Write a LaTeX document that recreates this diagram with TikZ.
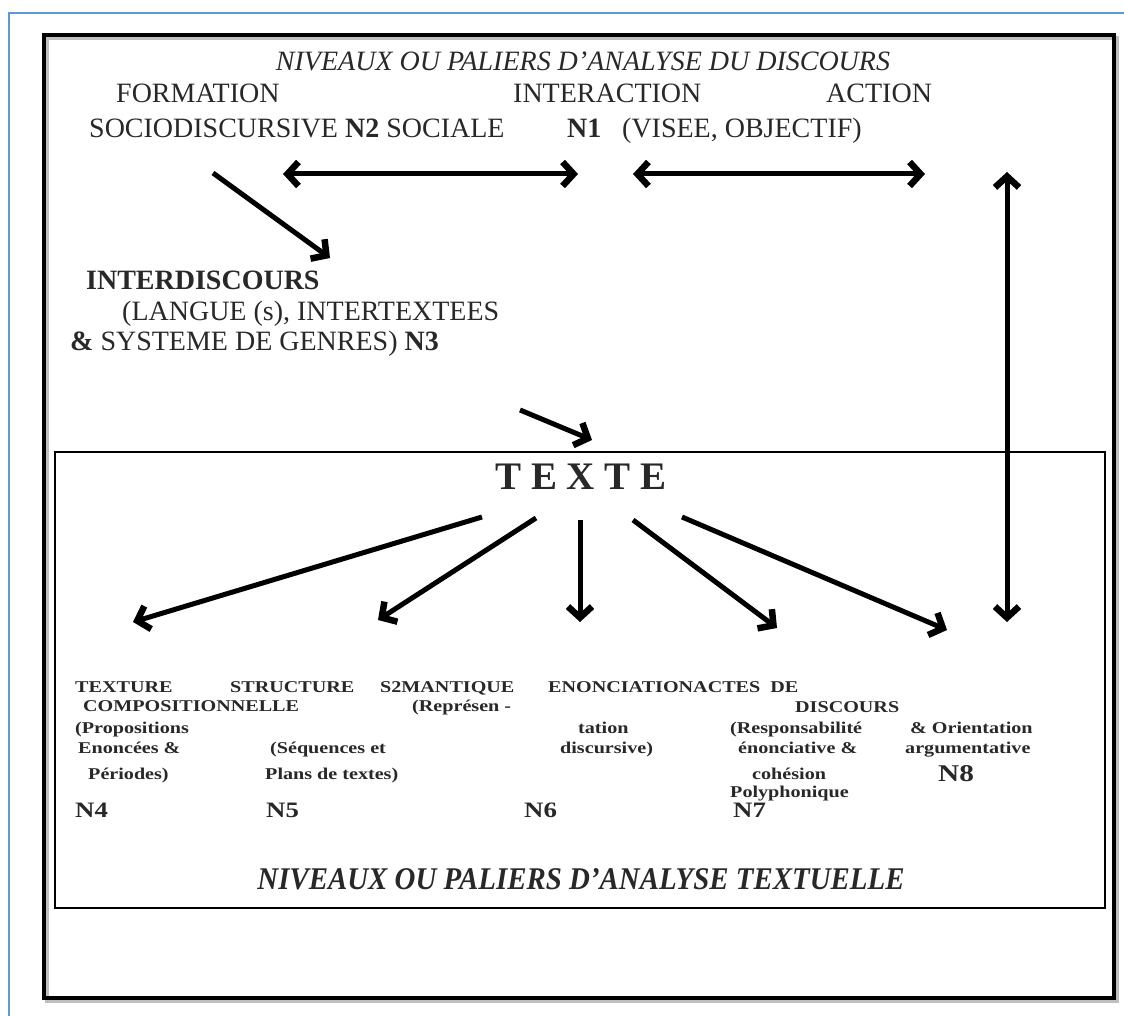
\documentclass[tikz,border=0pt]{standalone}
\usepackage{fontspec}
\setmainfont{Liberation Serif}
\newfontfamily\lblfont[FakeStretch=1.22]{Liberation Serif}
\usetikzlibrary{arrows.meta}
\definecolor{frameblue}{RGB}{91,155,213}
\definecolor{txtgray}{RGB}{40,40,40}
\begin{document}
\begin{tikzpicture}[x=1pt,y=-1pt,
  barb/.tip={Straight Barb[length=11pt,width=24pt,line width=0pt 1.3]},
  arr/.style={line width=5pt,-barb},
  darr/.style={line width=5pt,barb-barb},
  txt/.style={anchor=base west,inner sep=0pt,text=txtgray,font=\fontsize{28}{30}\selectfont},
  lbl/.style={anchor=base west,inner sep=0pt,text=txtgray,font=\lblfont\bfseries\fontsize{16.5}{18}\selectfont},
  num/.style={anchor=base west,inner sep=0pt,text=txtgray,font=\lblfont\bfseries\fontsize{22}{24}\selectfont}]
\useasboundingbox (0,0) rectangle (1124,1016);
% outer blue border
\draw[frameblue,line width=1.3pt] (9,1016) -- (9,13) -- (1124,13);
% thick frame with shadow
\draw[gray!50,line width=4pt] (47,38) rectangle (1117,1001);
\draw[black,line width=4pt] (44,35) rectangle (1114,998);
% inner box
\draw[black,line width=1.4pt] (55,452) rectangle (1105,908);

% header texts
\node[anchor=base,inner sep=0pt,text=txtgray,font=\itshape\fontsize{28}{30}\selectfont] (title) at (583,71) {NIVEAUX OU PALIERS D'ANALYSE DU DISCOURS};
\node[txt] (formation) at (116,103) {FORMATION};
\node[txt] (interaction) at (513,103) {INTERACTION};
\node[txt] (action) at (826,103) {ACTION};
\node[txt] (socio) at (89,138) {SOCIODISCURSIVE \textbf{N2} SOCIALE};
\node[txt] (n1) at (567,138) {\textbf{N1}};
\node[txt] (visee) at (622,138) {(VISEE, OBJECTIF)};

\node[txt] (interd) at (86,290) {\textbf{INTERDISCOURS}};
\node[txt] (langue) at (122,320) {(LANGUE (s), INTERTEXTEES};
\node[txt] (systeme) at (70,350) {\textbf{\&} SYSTEME DE GENRES) \textbf{N3}};

\node[anchor=base,inner sep=0pt,text=txtgray,font=\bfseries\fontsize{39}{40}\selectfont] (texte) at (581,489) {T E X T E};

% bottom labels
\node[lbl] (l1a) at (75,692) {TEXTURE};
\node[lbl] (l1b) at (230,692) {STRUCTURE};
\node[lbl] (l1c) at (380,692) {S2MANTIQUE};
\node[lbl] (l1d) at (548,692) {ENONCIATIONACTES\ \ DE};
\node[lbl] (l2a) at (83,711) {COMPOSITIONNELLE};
\node[lbl] (l2c) at (412,711) {(Représen -};
\node[lbl] (l2d) at (795,712) {DISCOURS};
\node[lbl] (l3a) at (75,733) {(Propositions};
\node[lbl] (l3c) at (578,733) {tation};
\node[lbl] (l3d) at (730,733) {(Responsabilité};
\node[lbl] (l3e) at (910,733) {\& Orientation};
\node[lbl] (l4a) at (78,753) {Enoncées \&};
\node[lbl] (l4b) at (270,753) {(Séquences et};
\node[lbl] (l4c) at (560,753) {discursive)};
\node[lbl] (l4d) at (738,753) {énonciative \&};
\node[lbl] (l4e) at (905,753) {argumentative};
\node[lbl] (l5a) at (88,779) {Périodes)};
\node[lbl] (l5b) at (265,779) {Plans de textes)};
\node[lbl] (l5d) at (752,779) {cohésion};
\node[num,font=\lblfont\bfseries\fontsize{24}{26}\selectfont] (n8) at (938,781) {N8};
\node[lbl] (l6d) at (730,797) {Polyphonique};
\node[num] (n4) at (75,817) {N4};
\node[num] (n5) at (266,817) {N5};
\node[num] (n6) at (524,817) {N6};
\node[num] (n7) at (733,817) {N7};

\node[anchor=base,inner sep=0pt,text=txtgray] (bottom) at (581,889) {\resizebox{647pt}{21pt}{\bfseries\itshape NIVEAUX OU PALIERS D'ANALYSE TEXTUELLE}};

% arrow end points
\coordinate (a1l) at (283,174); \coordinate (a1r) at (578,174);
\coordinate (a2l) at (633,174); \coordinate (a2r) at (925,174);
\coordinate (d1s) at (213,173); \coordinate (d1e) at (330,258);
\coordinate (vt) at (1007,172); \coordinate (vb) at (1007,622);
\coordinate (d2s) at (520,410); \coordinate (d2e) at (592,440);
\coordinate (t1s) at (482,517); \coordinate (t1e) at (133,622);
\coordinate (t2s) at (536,518); \coordinate (t2e) at (378,620);
\coordinate (t3s) at (580,520); \coordinate (t3e) at (580,622);
\coordinate (t4s) at (633,520); \coordinate (t4e) at (777,628);
\coordinate (t5s) at (682,517); \coordinate (t5e) at (947,630);

\draw[darr] (a1l) -- (a1r);
\draw[darr] (a2l) -- (a2r);
\draw[arr] (d1s) -- (d1e);
\draw[darr] (vt) -- (vb);
\draw[arr] (d2s) -- (d2e);
\draw[arr] (t1s) -- (t1e);
\draw[arr] (t2s) -- (t2e);
\draw[arr] (t3s) -- (t3e);
\draw[arr] (t4s) -- (t4e);
\draw[arr] (t5s) -- (t5e);
\end{tikzpicture}
\end{document}
